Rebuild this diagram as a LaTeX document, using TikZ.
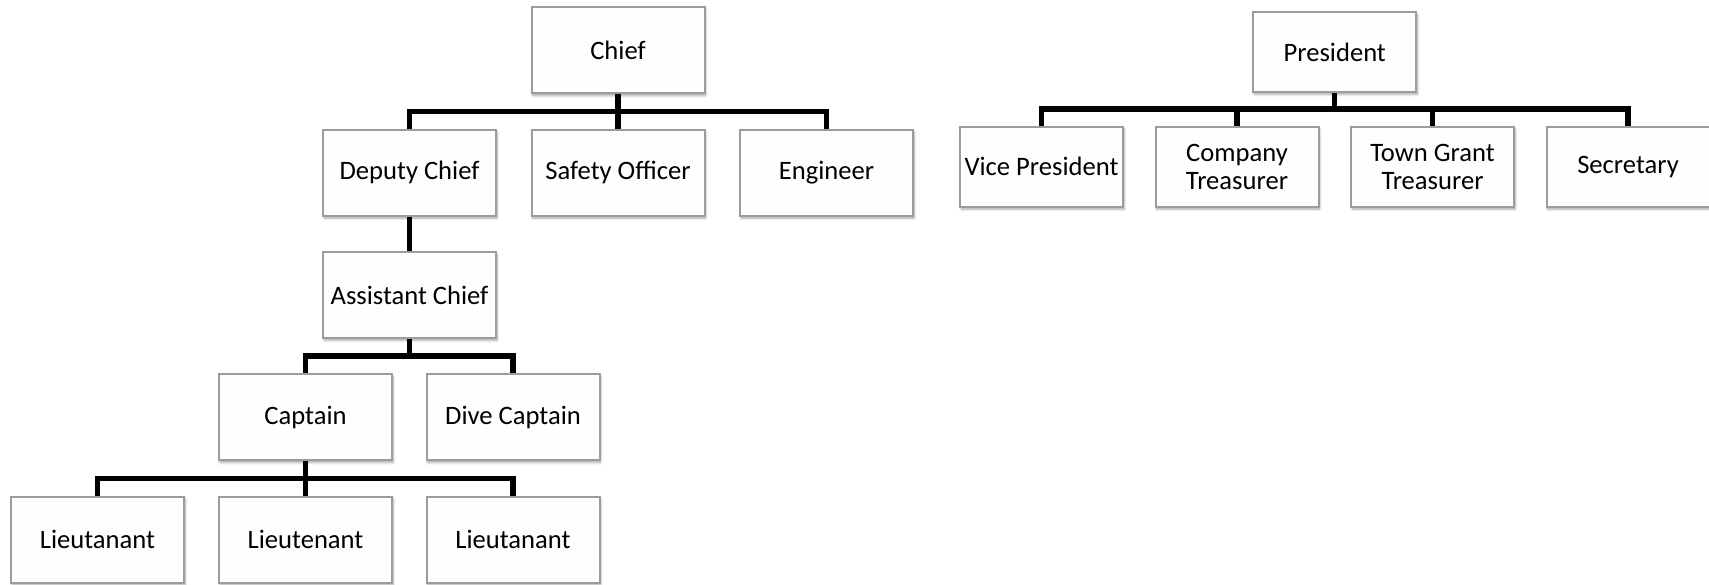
\documentclass[tikz,border=0pt]{standalone}
\usepackage{fontspec}
\setmainfont{Carlito}
\usetikzlibrary{shadows.blur}
\definecolor{boxline}{HTML}{9C9C9C}
\definecolor{boxfill}{HTML}{FEFEFE}
\begin{document}
\begin{tikzpicture}[x=0.5pt,y=-0.5pt,
  unit/.style={draw=boxline, line width=1pt, fill=boxfill, inner sep=0pt,
    align=center, font=\fontsize{13.3}{13.8}\selectfont,
    blur shadow={shadow xshift=0.6pt, shadow yshift=-1.2pt, shadow blur radius=1.2pt,
      shadow opacity=35, shadow blur steps=6}},
  wide/.style={unit, minimum width=86.5pt, minimum height=43pt},
  slim/.style={unit, minimum width=81.5pt, minimum height=40pt},
  conn/.style={line width=2.6pt, line join=miter}]
\useasboundingbox (0,0) rectangle (1709,584);

% Fire department chain of command
\node[wide] (chief) at (618,50.3)     {Chief};
\node[wide] (dep)   at (409.5,172.6)  {Deputy Chief};
\node[wide] (saf)   at (618,172.6)    {Safety Officer};
\node[wide] (eng)   at (826.5,172.6)  {Engineer};
\node[wide] (asst)  at (409.5,294.9)  {Assistant Chief};
\node[wide] (capt)  at (305.5,417.2)  {Captain};
\node[wide] (dive)  at (513,417.2)    {Dive Captain};
\node[wide] (lt1)   at (97.5,539.5)   {Lieutanant};
\node[wide] (lt2)   at (305.5,539.5)  {Lieutenant};
\node[wide] (lt3)   at (513,539.5)    {Lieutanant};

\coordinate (b1) at (618,111.7);
\coordinate (b2) at (409.5,356);
\coordinate (b3) at (305.5,478.3);

\draw[conn] (dep.north) |- (b1) -| (eng.north);
\draw[conn] (chief.south) -- (saf.north);
\draw[conn] (dep.south) -- (asst.north);
\draw[conn] (capt.north) |- (b2) -| (dive.north);
\draw[conn] (asst.south) -- (b2);
\draw[conn] (lt1.north) |- (b3) -| (lt3.north);
\draw[conn] (capt.south) -- (lt2.north);

% Company officers
\node[slim] (pres) at (1334.75,52)   {President};
\node[slim] (vp)   at (1041.5,166.8) {Vice President};
\node[slim] (ct)   at (1237,166.8)   {Company\\Treasurer};
\node[slim] (tg)   at (1432.5,166.8) {Town Grant\\Treasurer};
\node[slim] (sec)  at (1628,166.8)   {Secretary};

\coordinate (b4) at (1334.75,109);
\draw[conn] (vp.north) |- (b4) -| (sec.north);
\draw[conn] (pres.south) -- (b4);
\draw[conn] (ct.north) |- (b4);
\draw[conn] (tg.north) |- (b4);
\end{tikzpicture}
\end{document}
